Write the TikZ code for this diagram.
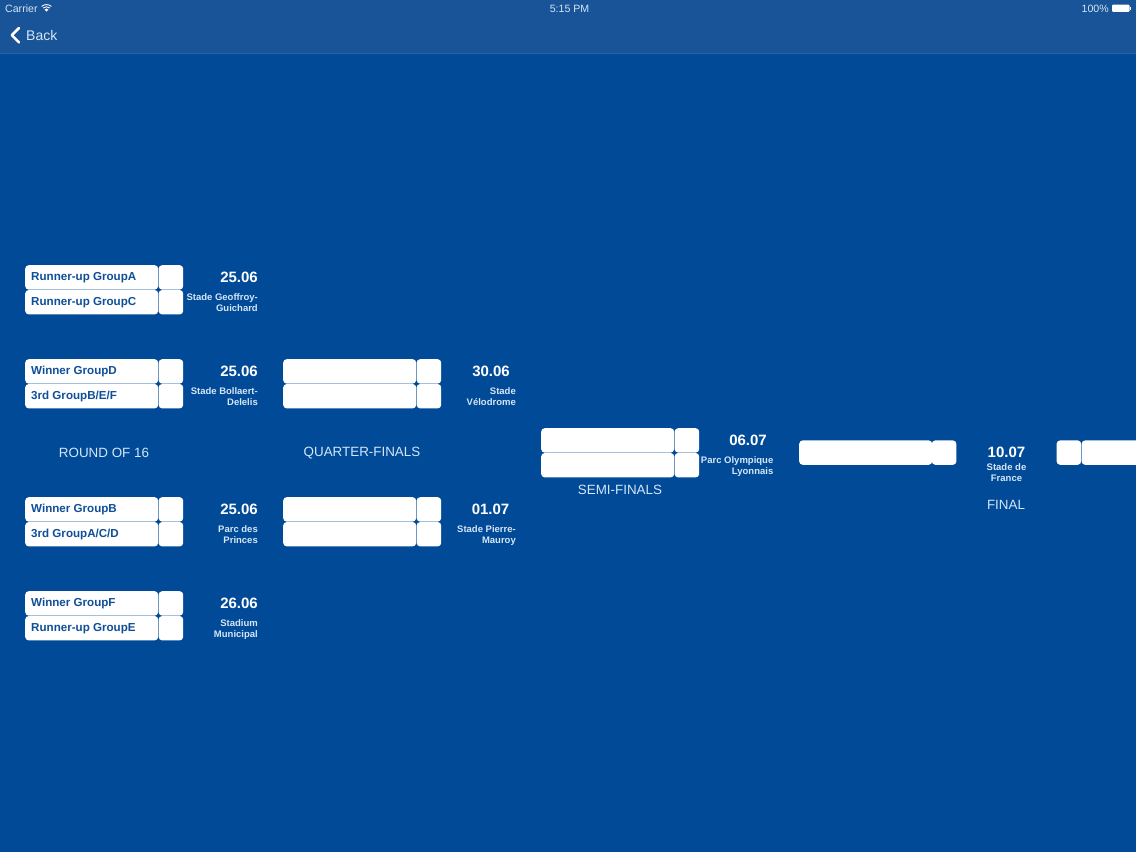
\documentclass[tikz,border=0pt]{standalone}
\usepackage{fontspec}
\setmainfont{Liberation Sans}
\definecolor{bg}{HTML}{004A98}
\definecolor{nav}{HTML}{185497}
\definecolor{navline}{HTML}{2A62A0}
\definecolor{navtext}{HTML}{D5E6F7}
\definecolor{teamtext}{HTML}{0F4F98}
\tikzset{
 teambox/.style={fill=white,rounded corners=3.5pt,minimum width=133pt,minimum height=24.4pt,inner sep=0pt,draw=none},
 scorebox/.style={fill=white,rounded corners=3.5pt,minimum width=24.6pt,minimum height=24.4pt,inner sep=0pt,draw=none},
 teamlabel/.style={font=\fontsize{11.6}{14}\selectfont\bfseries,text=teamtext,anchor=west,inner sep=0pt},
 datelabel/.style={font=\fontsize{15}{16}\selectfont\bfseries,text=white,anchor=east,inner sep=0pt},
 venuelabel/.style={font=\fontsize{9.5}{11}\selectfont\bfseries,text=navtext,align=right,anchor=north east,inner sep=0pt},
 roundlabel/.style={font=\fontsize{13.4}{16}\selectfont,text=navtext,inner sep=0pt},
 navlabel/.style={text=navtext,inner sep=0pt},
 dot/.style={circle,fill=bg,minimum size=3.5pt,inner sep=0pt},
}
% #1 name, #2 x, #3 y top, #4 team 1, #5 team 2, #6 date, #7 venue, #8 venue right edge, #9 date right edge
\newcommand{\matchblock}[9]{
 \node[teambox,anchor=north west] (#1ta) at (#2,#3) {};
 \node[scorebox,anchor=north west] (#1sa) at (#2+133.4,#3) {};
 \node[teambox,anchor=north west] (#1tb) at (#2,#3+24.8) {};
 \node[scorebox,anchor=north west] (#1sb) at (#2+133.4,#3+24.8) {};
 \node[dot] (#1dot) at (#2+133.2,#3+24.6) {};
 \node[teamlabel] (#1la) at (#2+6,#3+12.8) {#4};
 \node[teamlabel] (#1lb) at (#2+6,#3+37.8) {#5};
 \node[datelabel] (#1d) at (#9,#3+12.5) {#6};
 \node[venuelabel] (#1v) at (#8,#3+28.2) {#7};
}
\begin{document}
\begin{tikzpicture}[x=1pt,y=-1pt]
\useasboundingbox (0,0) rectangle (1136,852);
\fill[bg] (0,0) rectangle (1136,852);
\fill[nav] (0,0) rectangle (1136,53);
\draw[navline,line width=.7pt] (0,53.3) -- (1136,53.3);
% status and navigation bar
\node[navlabel,anchor=west,font=\fontsize{10.6}{12}\selectfont] (carrier) at (5,8.6) {Carrier};
\begin{scope}[shift={(46.5,11.6)}]
 \fill[white] (0,0) -- (-2,-2.2) .. controls (-1,-3.2) and (1,-3.2) .. (2,-2.2) -- cycle;
 \draw[white,line width=.9pt] (-3.3,-3.6) .. controls (-1.5,-5.2) and (1.5,-5.2) .. (3.3,-3.6);
 \draw[white,line width=.9pt] (-4.9,-5.2) .. controls (-2,-7.6) and (2,-7.6) .. (4.9,-5.2);
\end{scope}
\node[navlabel,font=\fontsize{10.6}{12}\selectfont] (clock) at (569.5,8.6) {5:15 PM};
\node[navlabel,anchor=east,font=\fontsize{10.6}{12}\selectfont] (battery) at (1109,8.6) {100\%};
\fill[white,rounded corners=1pt] (1112,4.6) rectangle (1129.5,11.8);
\fill[white] (1130,7) rectangle (1131.3,9.6);
\draw[white,line width=2.5pt,line cap=round,line join=round] (19,28) -- (11.8,35.2) -- (19,42.4);
\node[navlabel,anchor=west,font=\fontsize{14}{17}\selectfont] (back) at (26,35) {Back};
% round of 16
\matchblock{a}{25}{265}{Runner-up GroupA}{Runner-up GroupC}{25.06}{Stade Geoffroy-\\Guichard}{258}{258}
\matchblock{b}{25}{359}{Winner GroupD}{3rd GroupB/E/F}{25.06}{Stade Bollaert-\\Delelis}{258}{258}
\matchblock{c}{25}{497}{Winner GroupB}{3rd GroupA/C/D}{25.06}{Parc des\\Princes}{258}{258}
\matchblock{d}{25}{591}{Winner GroupF}{Runner-up GroupE}{26.06}{Stadium\\Municipal}{258}{258}
% quarter finals
\matchblock{e}{283}{359}{}{}{30.06}{Stade\\Vélodrome}{516}{510}
\matchblock{f}{283}{497}{}{}{01.07}{Stade Pierre-\\Mauroy}{516}{509.5}
% semi final
\matchblock{g}{541}{428}{}{}{06.07}{Parc Olympique\\Lyonnais}{773.5}{767}
% final
\node[teambox,anchor=north west] (hta) at (799,440.2) {};
\node[scorebox,anchor=north west] (hsa) at (931.6,440.2) {};
\node[scorebox,anchor=north west] (hsb) at (1056.4,440.2) {};
\node[teambox,anchor=north west] (htb) at (1081.4,440.2) {};
\node[font=\fontsize{15}{16}\selectfont\bfseries,text=white,inner sep=0pt] (hd) at (1006.5,452.7) {10.07};
\node[font=\fontsize{9.5}{11}\selectfont\bfseries,text=navtext,align=center,anchor=north,inner sep=0pt] (hv) at (1006.5,463.6) {Stade de\\France};
% round captions
\node[roundlabel] (r16) at (104,452.8) {ROUND OF 16};
\node[roundlabel] (rq) at (362,452.8) {QUARTER-FINALS};
\node[roundlabel] (rs) at (620,489.8) {SEMI-FINALS};
\node[roundlabel] (rf) at (1006,504.8) {FINAL};
\end{tikzpicture}
\end{document}
